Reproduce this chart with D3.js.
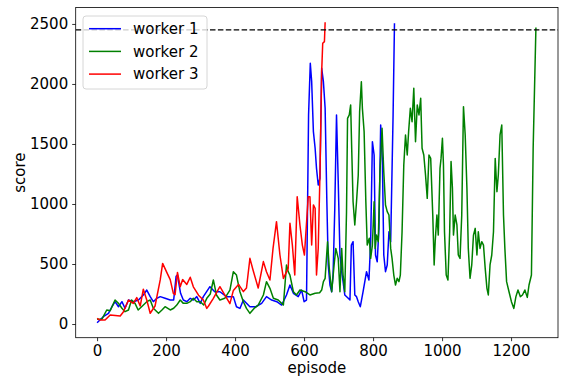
<!DOCTYPE html>
<html>
<head>
<meta charset="utf-8">
<script src="https://cdn.jsdelivr.net/npm/d3@7/dist/d3.min.js"></script>
<style>
  body { margin: 0; background: #fff; }
  text { font-family: 'DejaVu Sans', sans-serif; fill: #000; }
</style>
</head>
<body>
<div id="chart"></div>
<script>
// episode / score pairs
const w1Episodes = [0, 18, 33, 43, 52, 62, 72, 81, 91, 105, 120, 134, 144, 154, 163, 173, 183, 197, 212, 222, 229, 233, 242, 250, 260, 270, 279, 289, 299, 308, 327, 341, 356, 375, 395, 404, 414, 424, 443, 460, 477, 491, 506, 521, 535, 549, 559, 569, 583, 593, 600, 607, 613, 618, 622, 627, 632, 636, 641, 646, 651, 656, 661, 666, 670, 675, 680, 684, 689, 694, 699, 704, 709, 713, 718, 728, 733, 737, 742, 747, 752, 757, 763, 771, 781, 788, 793, 798, 803, 807, 812, 817, 822, 827, 831, 836, 841, 846, 851, 858, 862];
const w1Scores = [10, 61, 89, 144, 186, 144, 186, 131, 200, 186, 200, 242, 283, 228, 186, 214, 228, 214, 200, 200, 397, 408, 256, 200, 186, 214, 200, 228, 172, 228, 311, 269, 269, 228, 228, 144, 130, 200, 144, 144, 172, 228, 200, 186, 158, 242, 325, 256, 228, 283, 186, 200, 1742, 2172, 2019, 1603, 1464, 1297, 1158, 1214, 2131, 2019, 1797, 1019, 492, 325, 269, 408, 964, 1742, 1186, 575, 436, 353, 242, 214, 200, 658, 686, 242, 228, 186, 144, 269, 436, 367, 686, 1519, 1408, 575, 519, 797, 1658, 1353, 575, 436, 492, 769, 686, 1742, 2506];

const w2Episodes = [0, 14, 28, 38, 52, 62, 72, 81, 91, 100, 110, 119, 129, 144, 154, 163, 178, 188, 197, 212, 222, 231, 241, 250, 260, 270, 279, 289, 299, 309, 318, 328, 337, 346, 356, 370, 385, 395, 404, 414, 424, 433, 443, 455, 467, 482, 491, 501, 511, 525, 540, 549, 554, 559, 569, 578, 588, 603, 617, 632, 645, 651, 656, 661, 668, 673, 680, 687, 692, 699, 704, 709, 713, 718, 723, 726, 731, 735, 738, 742, 747, 752, 757, 761, 766, 769, 774, 779, 783, 789, 793, 798, 803, 806, 810, 815, 820, 826, 831, 836, 841, 846, 851, 855, 860, 865, 870, 875, 879, 884, 889, 894, 899, 903, 908, 913, 918, 923, 928, 933, 938, 942, 947, 952, 957, 962, 967, 973, 977, 980, 985, 989, 994, 997, 1001, 1004, 1007, 1012, 1017, 1022, 1026, 1030, 1033, 1038, 1043, 1047, 1052, 1057, 1062, 1067, 1072, 1076, 1081, 1086, 1091, 1096, 1101, 1105, 1110, 1115, 1120, 1125, 1130, 1134, 1139, 1144, 1149, 1154, 1159, 1163, 1168, 1173, 1178, 1182, 1187, 1194, 1201, 1208, 1214, 1220, 1227, 1233, 1240, 1247, 1252, 1259, 1264, 1272];
const w2Scores = [40, 40, 117, 110, 200, 172, 131, 103, 117, 200, 172, 117, 144, 186, 200, 131, 89, 117, 144, 117, 131, 158, 200, 172, 172, 186, 214, 186, 186, 158, 214, 250, 367, 242, 200, 214, 283, 436, 408, 269, 186, 130, 89, 130, 158, 242, 353, 297, 214, 200, 158, 492, 436, 408, 269, 242, 283, 269, 242, 256, 260, 283, 353, 381, 686, 464, 269, 492, 630, 547, 269, 630, 408, 269, 936, 1714, 1742, 1825, 1464, 1019, 825, 1019, 1242, 1769, 2019, 1797, 1603, 1019, 658, 714, 547, 658, 1019, 630, 741, 686, 1269, 1630, 1269, 992, 936, 908, 630, 547, 408, 325, 381, 353, 408, 769, 1325, 1575, 1408, 1603, 1797, 1686, 1964, 1519, 1825, 1742, 1881, 1464, 1408, 1242, 1047, 1408, 1380, 908, 492, 686, 908, 741, 1297, 1380, 1547, 1325, 769, 408, 367, 769, 1353, 1131, 741, 908, 825, 575, 547, 908, 1811, 1575, 1131, 630, 381, 492, 741, 797, 575, 769, 630, 686, 658, 464, 297, 242, 492, 575, 769, 1380, 1103, 1242, 1575, 1658, 908, 630, 353, 269, 186, 130, 228, 283, 228, 242, 283, 222, 325, 408, 1464, 2470];

const w3Episodes = [0, 9, 23, 38, 67, 76, 91, 105, 115, 125, 134, 144, 154, 168, 183, 190, 202, 212, 221, 226, 233, 241, 248, 260, 270, 279, 294, 308, 318, 323, 337, 356, 370, 385, 395, 410, 424, 433, 443, 452, 467, 482, 491, 501, 510, 520, 530, 540, 554, 559, 566, 573, 580, 588, 595, 601, 612, 617, 622, 627, 632, 636, 641, 646, 651, 654, 659, 661];
const w3Scores = [47, 33, 33, 75, 67, 100, 200, 172, 220, 150, 290, 200, 90, 150, 367, 505, 430, 370, 255, 245, 430, 310, 370, 330, 390, 310, 240, 200, 130, 150, 214, 311, 242, 170, 280, 330, 270, 300, 547, 450, 300, 520, 436, 367, 630, 853, 575, 380, 464, 840, 658, 408, 1061, 825, 658, 575, 1061, 1061, 658, 992, 964, 408, 630, 1242, 2103, 2339, 2353, 2514];

const workerNames = ['worker 1', 'worker 2', 'worker 3'];
const workerColors = ['#0000ff', '#008000', '#ff0000'];
const targetScore = 2450;

const xTicks = [0, 200, 400, 600, 800, 1000, 1200];
const yTicks = [0, 500, 1000, 1500, 2000, 2500];

const width = 561, height = 381;
const plot = {left: 75.7, right: 558, top: 7.5, bottom: 337.7};

const x = d3.scaleLinear().domain([-62, 1336]).range([plot.left, plot.right]);
const y = d3.scaleLinear().domain([-114, 2637]).range([plot.bottom, plot.top]);

const svg = d3.select('#chart').append('svg')
  .attr('width', width)
  .attr('height', height);

const series = [
  {eps: w1Episodes, scores: w1Scores},
  {eps: w2Episodes, scores: w2Scores},
  {eps: w3Episodes, scores: w3Scores}
].map((s, i) => ({
  name: workerNames[i],
  color: workerColors[i],
  points: s.eps.map((e, j) => ({ep: e, score: s.scores[j]}))
}));

svg.append('clipPath').attr('id', 'clip')
  .append('rect')
  .attr('x', plot.left).attr('y', plot.top)
  .attr('width', plot.right - plot.left)
  .attr('height', plot.bottom - plot.top);

const line = d3.line()
  .x(d => x(d.ep))
  .y(d => y(d.score));

const g = svg.append('g').attr('clip-path', 'url(#clip)');

series.forEach(s => {
  g.append('path')
    .attr('d', line(s.points))
    .attr('fill', 'none')
    .attr('stroke', s.color)
    .attr('stroke-width', 1.5)
    .attr('stroke-linejoin', 'round');
});

// target line
g.append('line')
  .attr('x1', plot.left).attr('x2', plot.right)
  .attr('y1', y(targetScore)).attr('y2', y(targetScore))
  .attr('stroke', '#000')
  .attr('stroke-width', 1.2)
  .attr('stroke-dasharray', '5.5,2.4');

// axes
const xAxis = d3.axisBottom(x).tickValues(xTicks).tickFormat(d3.format('d'))
  .tickSize(3.5).tickPadding(4);
const yAxis = d3.axisLeft(y).tickValues(yTicks).tickFormat(d3.format('d'))
  .tickSize(3.5).tickPadding(4);

const gx = svg.append('g')
  .attr('transform', 'translate(0,' + plot.bottom + ')')
  .call(xAxis);
const gy = svg.append('g')
  .attr('transform', 'translate(' + plot.left + ',0)')
  .call(yAxis);

[gx, gy].forEach(a => {
  a.select('.domain').remove();
  a.selectAll('.tick line').attr('stroke', '#000').attr('stroke-width', 0.8);
  a.selectAll('.tick text')
    .style('font-family', "'DejaVu Sans', sans-serif")
    .style('font-size', '15px')
    .attr('fill', '#000');
});

// frame
svg.append('rect')
  .attr('x', plot.left).attr('y', plot.top)
  .attr('width', plot.right - plot.left)
  .attr('height', plot.bottom - plot.top)
  .attr('fill', 'none')
  .attr('stroke', '#000')
  .attr('stroke-width', 0.8);

svg.append('text')
  .attr('x', (plot.left + plot.right) / 2)
  .attr('y', 373)
  .attr('text-anchor', 'middle')
  .style('font-size', '15px')
  .text('episode');

svg.append('text')
  .attr('transform', 'translate(25,' + ((plot.top + plot.bottom) / 2) + ') rotate(-90)')
  .attr('text-anchor', 'middle')
  .style('font-size', '15px')
  .text('score');

// legend
const legend = svg.append('g').attr('transform', 'translate(83,16)');
legend.append('rect')
  .attr('width', 124).attr('height', 73)
  .attr('rx', 3)
  .attr('fill', '#fff').attr('fill-opacity', 0.8)
  .attr('stroke', '#cccccc').attr('stroke-width', 0.8);

series.forEach((s, i) => {
  const ly = 12.7 + i * 22.7;
  legend.append('line')
    .attr('x1', 6).attr('x2', 38)
    .attr('y1', ly).attr('y2', ly)
    .attr('stroke', s.color).attr('stroke-width', 1.5);
  legend.append('text')
    .attr('x', 50).attr('y', ly + 5.3)
    .style('font-size', '15px')
    .text(s.name);
});
</script>
</body>
</html>
